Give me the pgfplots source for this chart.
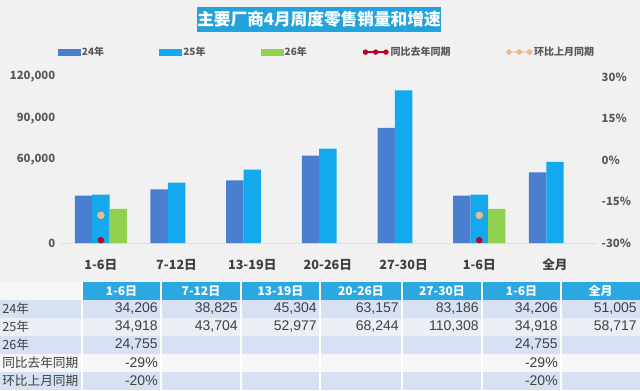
\documentclass[border=0pt]{standalone}
\usepackage{fontspec}
\setmainfont{Noto Sans CJK SC}
\newfontfamily\tabfont{Liberation Sans}
\usepackage{pgfplots}
\pgfplotsset{compat=1.18}
\definecolor{bgc}{HTML}{F1F1F1}
\definecolor{cA}{HTML}{4A7FD0}
\definecolor{cB}{HTML}{14A9EC}
\definecolor{cC}{HTML}{92D050}
\definecolor{cR}{HTML}{C00020}
\definecolor{cT}{HTML}{E8BA8C}
\definecolor{banner}{HTML}{22A3DC}
\definecolor{hdr}{HTML}{2BA8E2}
\definecolor{rowA}{HTML}{D6E2F3}
\definecolor{rowB}{HTML}{EBEFF6}
\definecolor{rowW}{HTML}{F6F6F6}
\definecolor{txt}{HTML}{404040}
\definecolor{tickc}{HTML}{595959}
\newcommand\tn[3]{\node[anchor=east,font=\tabfont\fontsize{10.5}{12}\selectfont,text=txt,inner sep=0pt] at (#1,#2) {#3};}
\newcommand\rl[2]{\node[anchor=west,font=\fontsize{9.5}{11}\selectfont,text=txt,inner sep=0pt] at (2,#1) {#2};}
\newcommand\hd[2]{\node[font=\bfseries\fontsize{9}{10}\selectfont,text=white,inner sep=0pt] at (#1,99) {#2};}
\begin{document}
\begin{tikzpicture}[x=0.75pt,y=0.75pt]
\useasboundingbox (0,0) rectangle (640,390);
\fill[bgc] (0,0) rectangle (640,390);
\coordinate (O) at (60,147);
\node[fill=banner,text=white,font=\bfseries\fontsize{12.5}{14}\selectfont,minimum width=175.5pt,minimum height=18.75pt,inner sep=0pt] at (319,370.5) {主要厂商4月周度零售销量和增速};
\begin{axis}[
  at={(O)}, anchor=south west, scale only axis,
  width=402.75pt, height=124.5pt,
  xmin=-0.54, xmax=6.555, ymin=0, ymax=120000,
  ybar=0pt, bar width=0.23,
  axis x line*=bottom, axis y line*=left,
  x axis line style={draw=black!12,-},
  y axis line style={draw=none},
  major tick length=0pt,
  xtick={0,...,6},
  xticklabels={1-6日,7-12日,13-19日,20-26日,27-30日,1-6日,全月},
  xticklabel style={font=\bfseries\fontsize{9.5}{11}\selectfont,text=txt,yshift=-8.5pt},
  ytick={0,60000,90000,120000},
  scaled y ticks=false,
  /pgf/number format/fixed,
  /pgf/number format/1000 sep={,},
  /pgf/number format/assume math mode=true,
  yticklabel style={font=\bfseries\fontsize{8.5}{10}\selectfont,text=tickc},
]
\addplot[fill=cA,draw=none] coordinates {(0,34206) (1,38825) (2,45304) (3,63157) (4,83186) (5,34206) (6,51005)};
\addplot[fill=cB,draw=none] coordinates {(0,34918) (1,43704) (2,52977) (3,68244) (4,110308) (5,34918) (6,58717)};
\addplot[fill=cC,draw=none] coordinates {(0,24755) (5,24755)};
\end{axis}
\begin{axis}[
  at={(O)}, anchor=south west, scale only axis,
  width=402.75pt, height=124.5pt,
  xmin=-0.54, xmax=6.555, ymin=-30, ymax=30,
  axis y line*=right, axis x line=none,
  y axis line style={draw=none},
  major tick length=0pt,
  ytick={-30,-15,0,15,30},
  yticklabel={\pgfmathprintnumber{\tick}\%},
  /pgf/number format/fixed,
  /pgf/number format/assume math mode=true,
  yticklabel style={font=\bfseries\fontsize{8.5}{10}\selectfont,text=tickc},
  legend columns=5,
  legend cell align=left,
  legend style={at={(-0.004,1.15)},anchor=west,draw=none,fill=none,
    font=\bfseries\fontsize{7.5}{9}\selectfont,text=tickc,inner sep=0pt,
    nodes={inner sep=1pt},
    column sep=0pt,/tikz/every even column/.append style={column sep=40.5pt}},
]
\addlegendimage{legend image code/.code={\fill[cA] (0pt,-2.3pt) rectangle (16.5pt,2.3pt);}}
\addlegendentry{24年}
\addlegendimage{legend image code/.code={\fill[cB] (0pt,-2.3pt) rectangle (16.5pt,2.3pt);}}
\addlegendentry{25年}
\addlegendimage{legend image code/.code={\fill[cC] (0pt,-2.3pt) rectangle (16.5pt,2.3pt);}}
\addlegendentry{26年}
\addplot[only marks,mark=*,mark size=2.2pt,color=cR,
  legend image code/.code={\draw[cR,line width=1.2pt] (0pt,0pt) -- (19pt,0pt); \fill[cR] (1.8pt,0pt) circle (1.8pt) (9.5pt,0pt) circle (1.8pt) (17.2pt,0pt) circle (1.8pt);}]
  coordinates {(0,-29) (5,-29)};
\addlegendentry{同比去年同期}
\addplot[only marks,mark=*,mark size=2.6pt,color=cT,
  legend image code/.code={\draw[cT!60,line width=1.2pt] (0pt,0pt) -- (19pt,0pt); \fill[cT] (1.8pt,0pt) circle (1.8pt) (9.5pt,0pt) circle (1.8pt) (17.2pt,0pt) circle (1.8pt);}]
  coordinates {(0,-20) (5,-20)};
\addlegendentry{环比上月同期}
\end{axis}
% table
\fill[rowW] (0,90) rectangle (82,108);
\fill[hdr] (82,90) rectangle (640,108);
\fill[rowA] (0,72) rectangle (640,90);
\fill[rowB] (0,54) rectangle (640,72);
\fill[rowA] (0,36) rectangle (640,54);
\fill[rowW] (0,18) rectangle (640,36);
\fill[rowA] (0,0) rectangle (640,18);
\foreach \xb in {82,161,241,320,402,482,561} {\draw[white,line width=0.9pt] (\xb,0) -- (\xb,108);}
\hd{121.5}{1-6日}\hd{201}{7-12日}\hd{280.5}{13-19日}\hd{361}{20-26日}\hd{442}{27-30日}\hd{521.5}{1-6日}\hd{600.5}{全月}
\rl{81}{24年}\rl{63}{25年}\rl{45}{26年}\rl{27}{同比去年同期}\rl{9}{环比上月同期}
\tn{158}{81}{34,206}\tn{238}{81}{38,825}\tn{317}{81}{45,304}\tn{399}{81}{63,157}\tn{479}{81}{83,186}\tn{558}{81}{34,206}\tn{637}{81}{51,005}
\tn{158}{63}{34,918}\tn{238}{63}{43,704}\tn{317}{63}{52,977}\tn{399}{63}{68,244}\tn{479}{63}{110,308}\tn{558}{63}{34,918}\tn{637}{63}{58,717}
\tn{158}{45}{24,755}\tn{558}{45}{24,755}
\tn{158}{27}{-29\%}\tn{558}{27}{-29\%}
\tn{158}{9}{-20\%}\tn{558}{9}{-20\%}
\end{tikzpicture}
\end{document}
